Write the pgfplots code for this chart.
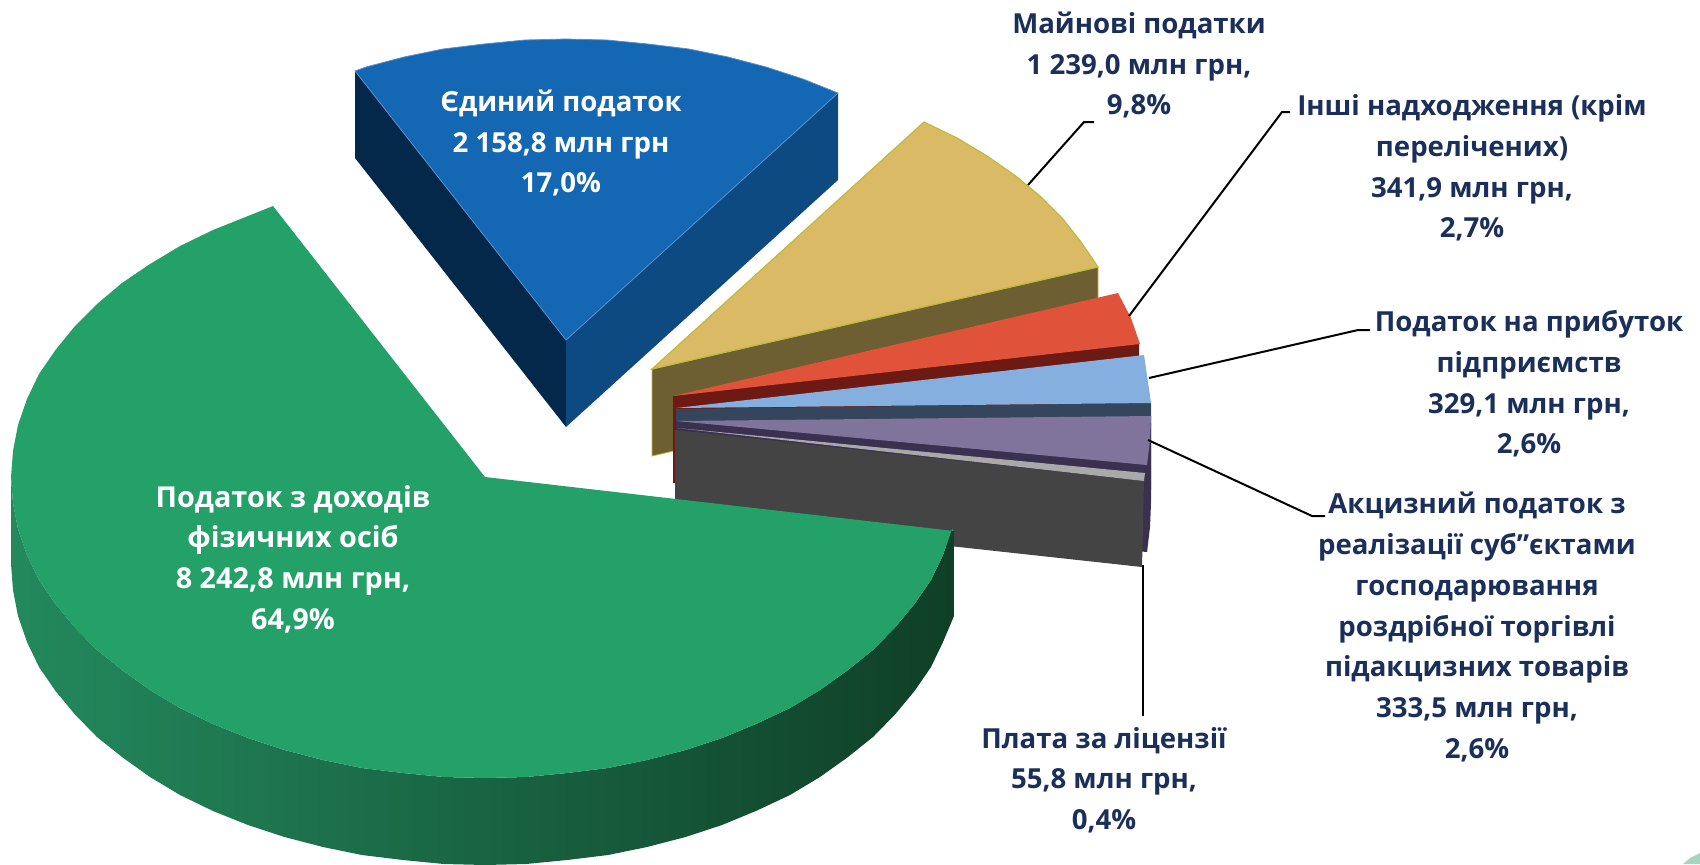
\documentclass[border=0pt]{standalone}
\usepackage{fontspec}
\setmainfont{Open Sans}
\usepackage{pgfplots}
\pgfplotsset{compat=1.18}
\definecolor{lab}{HTML}{1B2F5B}
\definecolor{gTop}{HTML}{24A069}
\definecolor{gA}{HTML}{23895D}
\definecolor{gB}{HTML}{124B30}
\definecolor{gC}{HTML}{0F3F27}
\definecolor{bTop}{HTML}{1467B3}
\definecolor{bL}{HTML}{04284A}
\definecolor{bR}{HTML}{0D4A82}
\definecolor{bEdge}{HTML}{5A8FCB}
\definecolor{yTop}{HTML}{DBBA66}
\definecolor{ySide}{HTML}{6E5F33}
\definecolor{yEdge}{HTML}{BDBB40}
\definecolor{rTop}{HTML}{E0523A}
\definecolor{rSide}{HTML}{6E1A14}
\definecolor{lbTop}{HTML}{85AFDF}
\definecolor{lbSide}{HTML}{34455C}
\definecolor{pTop}{HTML}{80749C}
\definecolor{pSide}{HTML}{3A3050}
\definecolor{grTop}{HTML}{A9A9A9}
\definecolor{grSide}{HTML}{444444}
\definecolor{corner}{HTML}{A5D5BE}
\begin{document}
\begin{tikzpicture}
\path[use as bounding box] (0,0) rectangle (850pt,432pt);
\begin{axis}[
  at={(0,0)}, anchor=south west,
  scale only axis, width=850pt, height=432pt,
  xmin=0, xmax=1700, ymin=0, ymax=864, y dir=reverse,
  hide axis, clip=true]
% corner
\addplot[draw=none, fill=corner, forget plot] coordinates {(1683,864)(1690,858)(1700,853)(1700,864)} -- cycle;
% yellow
\addplot[draw=yEdge, line width=.4pt, fill=ySide, forget plot] coordinates {(652,369)(1098,267)(1098,354)(652,456)} -- cycle;
\addplot[draw=yEdge, line width=.6pt, fill=yTop, forget plot] coordinates {(652,369)(924,122)(957,138)(987,156)(1015,175.5)(1040,196)(1062.5,218.5)(1081,242)(1098,267)} -- cycle;
% red
\addplot[draw=none, fill=rSide, forget plot] coordinates {(673,396)(1139,342)(1139,429)(673,483)} -- cycle;
\addplot[draw=none, fill=rTop, forget plot] coordinates {(673,396)(1118,293)(1131,318)(1140,344)} -- cycle;
% light blue
\addplot[draw=none, fill=lbSide, forget plot] coordinates {(676,409)(1151,403)(1151,490)(676,496)} -- cycle;
\addplot[draw=none, fill=lbTop, forget plot] coordinates {(676,408)(1144,355)(1148,382)(1151,403)} -- cycle;
% purple
\addplot[draw=none, fill=pSide, forget plot] coordinates {(1151,416)(1150,440)(1147,465)(1147,552)(1150,527)(1151,503)} -- cycle;
\addplot[draw=none, fill=pSide, forget plot] coordinates {(676,421)(1147,465)(1147,552)(676,508)} -- cycle;
\addplot[draw=none, fill=pTop, forget plot] coordinates {(676,421)(1151,416)(1150,440)(1147,465)} -- cycle;
% grey
\addplot[draw=none, fill=grSide, forget plot] coordinates {(675,430)(1144,481)(1142,567)(675,516)} -- cycle;
\addplot[draw=none, fill=grTop, forget plot] coordinates {(677,428)(1145,473)(1144,481)} -- cycle;
% green
\addplot[draw=none, left color=gA, middle color=gB, right color=gC, forget plot] coordinates {
(11,477)(13,503)(18,529)(27,555)(39,580)(55.5,604)(75,627.5)(97,650)(122,670)(150,690)(180,708)(213,724)(248,738)(284.5,750)(323,760)(362,768)(403,773)(444,777)(485,778)(526,777)(567,773)(608,768)(647,760)(685.5,750)(722,738)(757,723.5)(790,708)(820,690)(848,670)(873,650)(895,627.5)(914.5,604)(931,580)(943,555)(952,529)(954,531)
(954,616)(943,642)(931,667)(914.5,691)(895,714.5)(873,737)(848,757)(820,777)(790,795)(757,810.5)(722,825)(685.5,837)(647,847)(608,855)(567,860)(526,864)(485,865)(444,864)(403,860)(362,855)(323,847)(284.5,837)(248,825)(213,811)(180,795)(150,777)(122,757)(97,737)(75,714.5)(55.5,691)(39,667)(27,642)(18,616)(13,590)(11,564)} -- cycle;
\addplot[draw=none, fill=gTop, forget plot] coordinates {
(273,206)(248,216)(213,230)(180,246)(150,264)(122,283)(97,304)(75,326)(55.5,350)(39,374)(27,399)(18,425)(13,451)(11,477)(13,503)(18,529)(27,555)(39,580)(55.5,604)(75,627.5)(97,650)(122,670)(150,690)(180,708)(213,724)(248,738)(284.5,750)(323,760)(362,768)(403,773)(444,777)(485,778)(526,777)(567,773)(608,768)(647,760)(685.5,750)(722,738)(757,723.5)(790,708)(820,690)(848,670)(873,650)(895,627.5)(914.5,604)(931,580)(943,555)(952,529)(954,531)(485,477)} -- cycle;
% blue
\addplot[draw=none, fill=bL, forget plot] coordinates {(355,71)(566,340)(566,427)(355,158)} -- cycle;
\addplot[draw=none, fill=bR, forget plot] coordinates {(566,340)(838,93)(838,180)(566,427)} -- cycle;
\addplot[draw=bEdge, line width=.4pt, fill=bTop, forget plot] coordinates {(355,71)(366,67)(404,57)(443,49)(484,44)(525,40)(566,39)(607,40)(648,44)(689,49)(728,57)(766,67)(803,79)(838,93)(566,340)} -- cycle;
% leaders
\addplot[black, line width=1pt, forget plot] coordinates {(1028,185)(1084,122)(1094,122)};
\addplot[black, line width=1pt, forget plot] coordinates {(1129,316)(1282,112)(1290,112)};
\addplot[black, line width=1pt, forget plot] coordinates {(1149,378)(1358,330)(1370,330)};
\addplot[black, line width=1pt, forget plot] coordinates {(1148,440)(1312,516)(1325,516)};
\addplot[black, line width=1pt, forget plot] coordinates {(1143,565)(1143,716)};
% labels
\tikzset{lb/.style={align=center, font=\fontsize{13.8}{20.35}\selectfont\bfseries, text=lab, inner sep=0pt}}
\node[lb] at (axis cs:1139,65) {Майнові податки\\1 239,0 млн грн,\\9,8\%};
\node[lb] at (axis cs:1472,168) {Інші надходження (крім\\перелічених)\\341,9 млн грн,\\2,7\%};
\node[lb] at (axis cs:1529,384) {Податок на прибуток\\підприємств\\329,1 млн грн,\\2,6\%};
\node[lb] at (axis cs:1477,627) {Акцизний податок з\\реалізації суб"єктами\\господарювання\\роздрібної торгівлі\\підакцизних товарів\\333,5 млн грн,\\2,6\%};
\node[lb] at (axis cs:1104,780) {Плата за ліцензії\\55,8 млн грн,\\0,4\%};
\node[lb, text=white, font=\fontsize{14.4}{20.35}\selectfont\bfseries] at (axis cs:293,559) {Податок з доходів\\фізичних осіб\\8 242,8 млн грн,\\64,9\%};
\node[lb, text=white] at (axis cs:561,143) {Єдиний податок\\2 158,8 млн грн\\17,0\%};
\end{axis}
\end{tikzpicture}
\end{document}
